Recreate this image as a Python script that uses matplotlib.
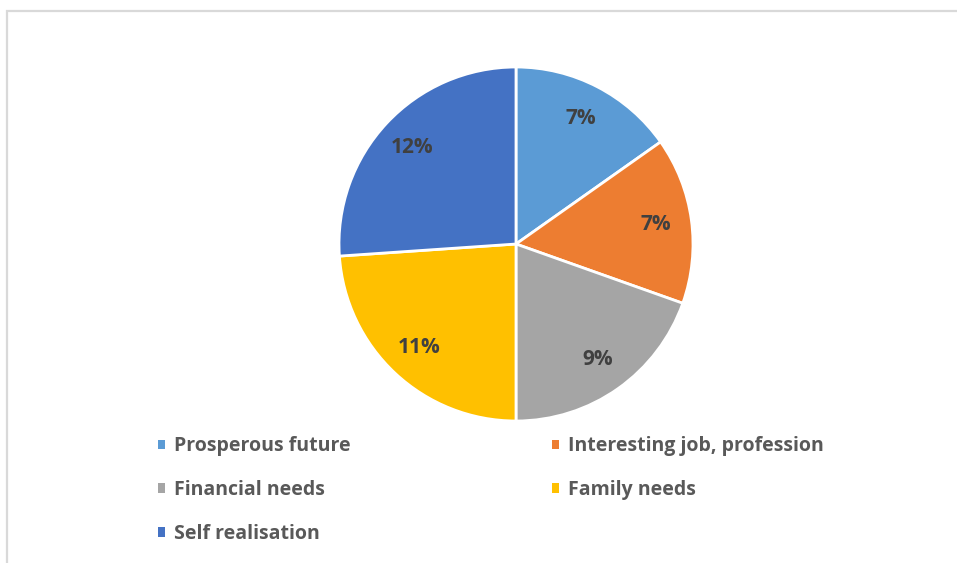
import matplotlib.pyplot as plt
from matplotlib.patches import Rectangle

# motives and their shares (%)
labels = ['Prosperous future', 'Interesting job, profession', 'Financial needs',
          'Family needs', 'Self realisation']
values = [7, 7, 9, 11, 12]
colors = ['#5b9bd5', '#ed7d31', '#a5a5a5', '#ffc000', '#4472c4']

plt.rcParams['font.family'] = ['Open Sans', 'DejaVu Sans']

W, H = 957, 563
fig = plt.figure(figsize=(W / 100, H / 100), dpi=100)

# light grey chart frame (open to the right and bottom)
fig.patches.append(Rectangle((7.5 / W, -0.1), 1.2, 1.1 - 11.5 / H,
                             transform=fig.transFigure, fill=False,
                             edgecolor='#d9d9d9', linewidth=1.6))

# pie axes, centre (516, 244) px, radius 177 px
cx, cy, r = 516, 244, 177
ax = fig.add_axes([(cx - r) / W, (H - cy - r) / H, 2 * r / W, 2 * r / H])

vi = iter(values)
wedges, texts, autotexts = ax.pie(
    values, colors=colors, startangle=90, counterclock=False,
    autopct=lambda p: f'{next(vi)}%', pctdistance=0.8,
    wedgeprops=dict(edgecolor='white', linewidth=2))
for t in autotexts:
    t.set_color('#404040')
    t.set_fontsize(15)
    t.set_fontweight('bold')
ax.set_xlim(-1, 1)
ax.set_ylim(-1, 1)
ax.set_aspect('equal')
ax.axis('off')

# legend laid out row by row in two columns
order = [0, 2, 4, 1, 3]
leg = fig.legend([wedges[i] for i in order], [labels[i] for i in order],
                 ncol=2, loc='upper left', bbox_to_anchor=(140 / W, 1 - 419 / H),
                 frameon=False, fontsize=14, handlelength=0.38, handleheight=0.38,
                 handletextpad=0.45, labelspacing=1.22, columnspacing=10.35)
for t in leg.get_texts():
    t.set_color('#595959')
    t.set_fontweight('bold')
for h in leg.legend_handles:
    h.set_edgecolor('none')

fig.savefig('out.png', dpi=100)
